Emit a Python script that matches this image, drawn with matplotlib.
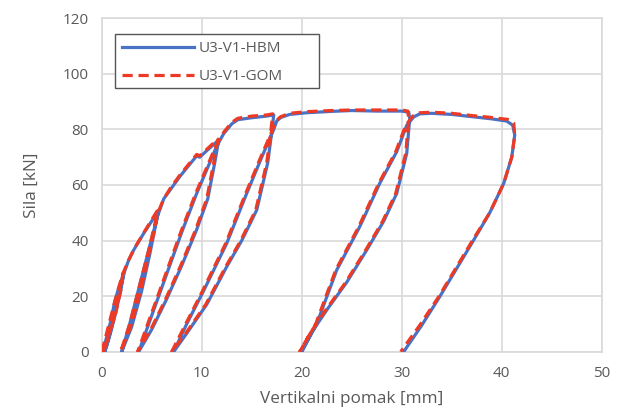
import matplotlib.pyplot as plt
from matplotlib.patches import Rectangle

plt.rcParams['font.family'] = ['Open Sans', 'DejaVu Sans']

# U3-V1-HBM (pomak mm, sila kN)
hbm_x = [0, 0.4, 0.9, 1.3, 1.7, 2.2,
         1.9, 1.4, 0.9, 0.5, 0.3,
         0.7, 1.2, 1.7, 2.2,
         2.7, 3.2, 4.2, 5.0, 5.7,
         5.3, 4.8, 4.0, 3.0, 2.0,
         2.8, 3.8, 4.8, 5.6,
         6.2, 6.8, 7.8, 8.7, 9.5, 9.8, 10.7, 11.7,
         11.3, 10.6, 9.5, 8.0, 6.5, 5.0, 3.7,
         5.0, 6.5, 8.0, 9.5, 10.8, 11.5,
         12.2, 13.0, 13.6, 15.0, 16.5, 17.2,
         17.0, 16.6, 15.5, 14.0, 12.5, 10.5, 8.5, 7.2,
         8.5, 10.2, 12.5, 14.5, 16.0, 17.2, 17.5, 17.9,
         18.8, 20.5, 23.0, 25.0, 27.5, 30.0, 30.7,
         30.8, 30.5, 29.5, 28.2, 26.5, 24.5, 22.5, 21.0, 20.0,
         21.5, 23.5, 25.8, 27.8, 29.5, 30.5, 31.2, 31.8,
         33.0, 35.0, 37.0, 39.0, 40.5, 41.1,
         41.3, 41.0, 40.2, 38.8, 37.2, 35.5, 33.8, 32.0, 30.2]
hbm_f = [0, 4, 11, 18, 23, 28,
         22, 14, 7, 2, 0,
         5, 12, 20, 28,
         33, 36.6, 42.6, 47, 51,
         44, 35, 22, 9, 0,
         10, 24, 38, 49,
         55, 58, 63, 67, 70.5, 70, 73, 76.2,
         68, 55, 44, 31, 19, 8, 0,
         13, 28, 43, 57, 68, 74,
         78.5, 82, 83.5, 84.2, 84.8, 85.2,
         79, 68, 51, 40, 30.6, 17, 6.6, 0,
         10, 22, 39, 57, 70, 80, 83, 84.3,
         85.4, 86, 86.5, 86.8, 86.6, 86.6, 86.2,
         84, 71.4, 57, 47, 36.6, 25, 15, 7, 0,
         10, 29.4, 45, 60.6, 72, 81.5, 84.5, 85.6,
         85.8, 85.4, 84.6, 83.8, 83, 81.5,
         78, 70, 60.6, 50, 40.2, 30, 19.8, 9.5, 0]

# U3-V1-GOM
gom_x = [0, 0.3, 0.8, 1.3, 1.7, 2.1,
         1.9, 1.4, 0.8, 0.4, 0.2,
         0.6, 1.2, 1.7, 2.1,
         2.7, 3.2, 4.2, 5.0, 5.6,
         5.3, 4.7, 3.9, 2.9, 1.9,
         2.8, 3.8, 4.8, 5.5,
         6.2, 6.8, 7.8, 8.7, 9.5, 9.8, 10.7, 11.6,
         11.2, 10.5, 9.4, 7.9, 6.4, 4.9, 3.6,
         4.9, 6.4, 7.9, 9.4, 10.7, 11.4,
         12.2, 13.0, 13.6, 15.0, 16.5, 17.1,
         16.9, 16.5, 15.4, 13.9, 12.4, 10.4, 8.4, 7.0,
         8.4, 10.1, 12.4, 14.4, 15.9, 17.1, 17.4, 17.9,
         18.8, 20.5, 23.0, 25.0, 27.5, 30.0, 30.6,
         30.7, 30.4, 29.4, 28.1, 26.4, 24.4, 22.4, 20.9, 19.8,
         21.4, 23.4, 25.7, 27.7, 29.4, 30.4, 31.1, 31.8,
         33.0, 35.0, 37.0, 39.0, 40.6, 41.2,
         41.3, 41.0, 40.2, 38.8, 37.1, 35.4, 33.7, 31.8, 29.9]
gom_f = [0, 4, 11, 18, 23, 28,
         22, 14, 7, 2, 0,
         5, 12, 20, 28,
         33, 36.8, 42.8, 47.5, 51,
         44, 35, 22, 9, 0,
         10, 24, 38, 49,
         55, 58.5, 63.5, 67.5, 71, 70.5, 73.5, 76.5,
         68, 55, 44, 31, 19, 8, 0,
         13, 28, 43, 57, 68, 74,
         79, 82.5, 84, 84.8, 85.2, 85.6,
         79, 68, 51, 40, 30.6, 17, 6.6, 0,
         10, 22, 39, 57, 70, 80, 83, 84.6,
         85.8, 86.4, 86.8, 87.0, 87.0, 87.0, 86.6,
         84, 71.4, 57, 47, 36.6, 25, 15, 7, 0,
         10, 29.4, 45, 60.6, 72, 81.5, 84.8, 86.0,
         86.2, 85.8, 85.0, 84.3, 83.6, 82.2,
         78, 70, 60.6, 50, 40.2, 30, 19.8, 9.5, 0]

x_ticks = [0, 10, 20, 30, 40, 50]
y_ticks = [0, 20, 40, 60, 80, 100, 120]

grid_c = '#d9d9d9'
text_c = '#595959'

fig = plt.figure(figsize=(6.21, 4.12), dpi=100)
ax = fig.add_axes([0.1638, 0.1464, 0.8052, 0.8092])

ax.plot(hbm_x, hbm_f, color='#4a72c4', lw=2.3, label='U3-V1-HBM', zorder=3)
ax.plot(gom_x, gom_f, color='#ec3a25', lw=2.3, ls=(0, (3.2, 1.8)),
        label='U3-V1-GOM', zorder=4)

ax.set_xlim(0, 50)
ax.set_ylim(0, 120)
ax.set_xticks(x_ticks)
ax.set_yticks(y_ticks)
ax.grid(True, color=grid_c, lw=1.2, zorder=0)
for s in ax.spines.values():
    s.set_color(grid_c)
    s.set_linewidth(1.2)
ax.tick_params(length=0, labelsize=11, colors=text_c)
ax.tick_params(axis='x', pad=10)
ax.tick_params(axis='y', pad=9.5)

ax.set_xlabel('Vertikalni pomak [mm]', fontsize=12.3, color=text_c, labelpad=7.5)
ax.set_ylabel('Sila [kN]', fontsize=12.3, color=text_c, labelpad=16)

# legend box (wider than the entries, as in the original)
ax.add_patch(Rectangle((0.0266, 0.790), 0.408, 0.162, transform=ax.transAxes,
                       facecolor='white', edgecolor='#555555', lw=1.0,
                       zorder=5))
leg = ax.legend(loc='upper left', bbox_to_anchor=(0.0266, 0.952), fontsize=11,
                handlelength=4.75, handletextpad=0.3, borderpad=0.45,
                labelspacing=0.86, frameon=False, borderaxespad=0)
leg.set_zorder(6)
for t in leg.get_texts():
    t.set_color(text_c)

fig.savefig('out.png', dpi=100)
